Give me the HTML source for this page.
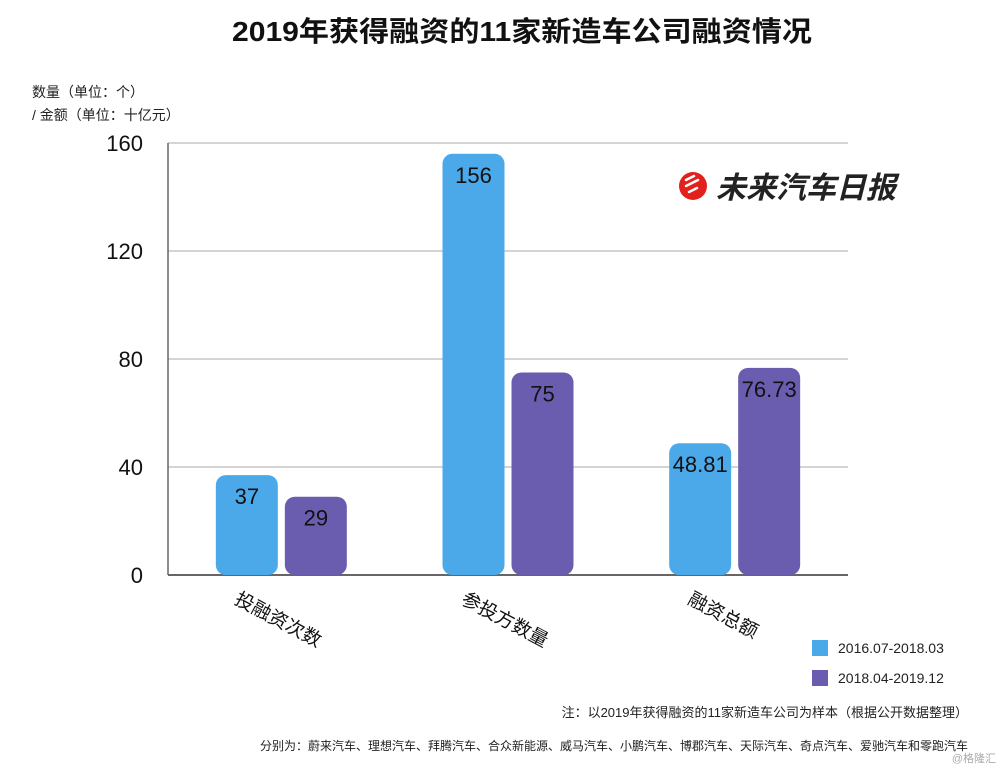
<!DOCTYPE html>
<html><head><meta charset="utf-8"><style>
body{margin:0;background:#fff;width:1000px;height:769px;overflow:hidden;font-family:"Liberation Sans","Noto Sans CJK SC",sans-serif}
svg text{font-family:"Liberation Sans","Noto Sans CJK SC",sans-serif}
</style></head><body>
<svg id="chart" width="1000" height="769" viewBox="0 0 1000 769">
<text x="522" y="41" text-anchor="middle" font-size="28" font-weight="bold" fill="#111" textLength="580" lengthAdjust="spacingAndGlyphs">2019年获得融资的11家新造车公司融资情况</text>
<text x="32" y="97" font-size="14" fill="#222">数量（单位：个）</text>
<text x="32" y="120" font-size="14" fill="#222">/ 金额（单位：十亿元）</text>
<g id="grid"></g><g id="bars"></g>
<g>
<circle cx="693" cy="186" r="14" fill="#e3201b"/>
<path d="M686 180l8 -4M686 186l12 -6M689 192l8 -4" stroke="#fff" stroke-width="2.5" stroke-linecap="round"/>
<text x="716" y="198" font-size="30" font-weight="bold" font-style="italic" fill="#222">未来汽车日报</text>
</g>
<g>
<rect x="812" y="640" width="16" height="16" fill="#4ba9e9"/>
<text x="838" y="653" font-size="14" fill="#222">2016.07-2018.03</text>
<rect x="812" y="670" width="16" height="16" fill="#6a5db0"/>
<text x="838" y="683" font-size="14" fill="#222">2018.04-2019.12</text>
</g>
<text x="968" y="717" text-anchor="end" font-size="13" fill="#222">注：以2019年获得融资的11家新造车公司为样本（根据公开数据整理）</text>
<text x="968" y="750" text-anchor="end" font-size="12" fill="#222">分别为：蔚来汽车、理想汽车、拜腾汽车、合众新能源、威马汽车、小鹏汽车、博郡汽车、天际汽车、奇点汽车、爱驰汽车和零跑汽车</text>
<text x="996" y="762" text-anchor="end" font-size="11" fill="#aaa">@格隆汇</text>
</svg>
<script>
const categories=["投融资次数","参投方数量","融资总额"];
const series1=[37,156,48.81];
const series2=[29,75,76.73];
const labels1=["37","156","48.81"];
const labels2=["29","75","76.73"];
const ticks=[0,40,80,120,160];
const NS="http://www.w3.org/2000/svg";
const x0=168,x1=848,yBase=575,yTop=143,vMax=160;
const y=v=>yBase-(v/vMax)*(yBase-yTop);
const grid=document.getElementById('grid'),bars=document.getElementById('bars');
function mk(t,a,p){const e=document.createElementNS(NS,t);for(const k in a)e.setAttribute(k,a[k]);p.appendChild(e);return e;}
ticks.forEach(t=>{
 const l=mk('line',{x1:x0,x2:x1,y1:y(t),y2:y(t),stroke:t===0?'#666':'#aaa','stroke-width':t===0?2:1},grid);
 
 
 const tx=mk('text',{x:143,y:y(t)+8,'text-anchor':'end','font-size':22,fill:'#111'},grid);
 tx.textContent=t;
 
 
});
mk('line',{x1:x0,x2:x0,y1:yTop,y2:yBase,stroke:'#666','stroke-width':1.5},grid);
const gw=(x1-x0)/3,bw=62;
categories.forEach((c,i)=>{
 const cx=x0+gw*i+gw/2;
 [[series1[i],labels1[i],'#4ba9e9',cx-bw-3.5],[series2[i],labels2[i],'#6a5db0',cx+3.5]].forEach(([v,lb,col,bx],j)=>{
  const r=mk('rect',{x:bx,y:y(v),width:bw,height:yBase-y(v),rx:10,fill:col},bars);
  
  
  const t=mk('text',{x:bx+bw/2,y:y(v)+29,'text-anchor':'middle','font-size':22,fill:'#111'},bars);
  t.textContent=lb;
  
  
 });
 const lx=cx-48,ly=603;
 const ct=mk('text',{x:lx,y:ly,'font-size':19,fill:'#111',transform:`rotate(28 ${lx} ${ly})`},bars);
 ct.textContent=c;
 
 
});
</script>
</body></html>
